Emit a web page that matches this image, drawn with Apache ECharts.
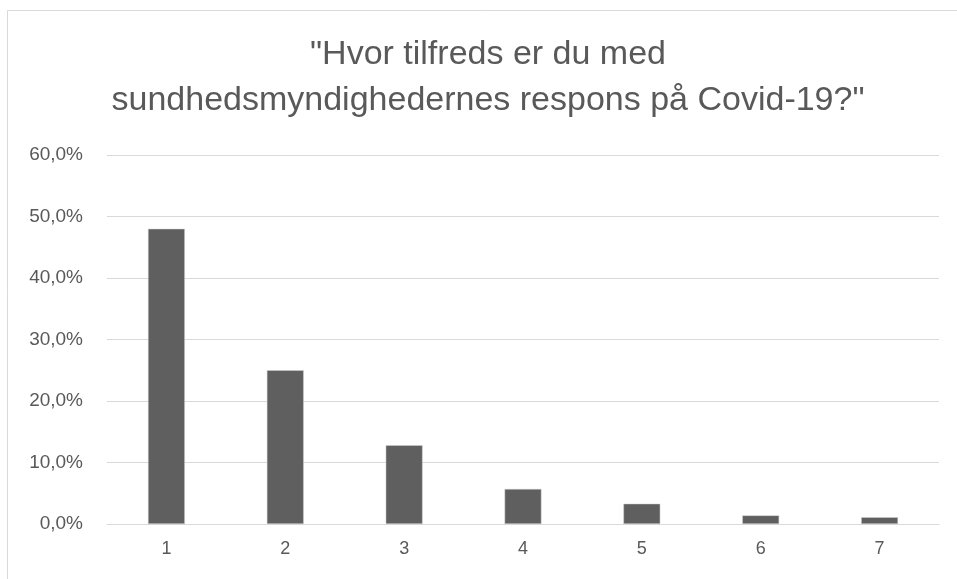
<!DOCTYPE html>
<html>
<head>
<meta charset="utf-8">
<script src="https://cdn.jsdelivr.net/npm/echarts@6/dist/echarts.min.js"></script>
<style>html,body{margin:0;padding:0;background:#fff}#c{width:957px;height:579px}</style>
</head>
<body>
<div id="c"></div>
<script>
const titleLines = ['"Hvor tilfreds er du med', 'sundhedsmyndighedernes respons på Covid-19?"'];
const categories = ['1', '2', '3', '4', '5', '6', '7'];
const values = [0.480, 0.250, 0.128, 0.057, 0.033, 0.014, 0.011];
const yTicks = { min: 0, max: 0.6, interval: 0.1 };

const chart = echarts.init(document.getElementById('c'), null, { renderer: 'canvas' });
const FONT = '"Liberation Sans", Arial, sans-serif';
chart.setOption({
  animation: false,
  backgroundColor: '#ffffff',
  graphic: [
    { type: 'rect', shape: { x: 7.5, y: 10.5, width: 1000, height: 1000 }, style: { fill: 'none', stroke: '#d9d9d9', lineWidth: 1 }, silent: true },
    { type: 'text', x: 488, y: 55, style: { text: titleLines[0], fill: '#595959', font: '34px ' + FONT, textAlign: 'center', textVerticalAlign: 'middle' } },
    { type: 'text', x: 488, y: 101, style: { text: titleLines[1], fill: '#595959', font: '34px ' + FONT, textAlign: 'center', textVerticalAlign: 'middle' } }
  ],
  grid: { left: 107, right: 18, top: 155, bottom: 55, containLabel: false },
  xAxis: {
    type: 'category',
    data: categories,
    axisLine: { show: true, lineStyle: { color: '#d9d9d9', width: 1 } },
    axisTick: { show: false },
    axisLabel: { color: '#595959', fontSize: 18, fontFamily: FONT, margin: 16 }
  },
  yAxis: {
    type: 'value',
    min: yTicks.min, max: yTicks.max, interval: yTicks.interval,
    axisLine: { show: false },
    axisTick: { show: false },
    splitLine: { lineStyle: { color: '#d9d9d9', width: 1 } },
    axisLabel: {
      color: '#595959', fontSize: 19, fontFamily: FONT, margin: 24,
      formatter: v => (v * 100).toFixed(1).replace('.', ',') + '%'
    }
  },
  series: [{
    type: 'bar',
    data: values,
    barWidth: '31%',
    itemStyle: { color: '#5f5f5f', borderColor: '#d0d0d0', borderWidth: 0.5 }
  }]
});
</script>
</body>
</html>
